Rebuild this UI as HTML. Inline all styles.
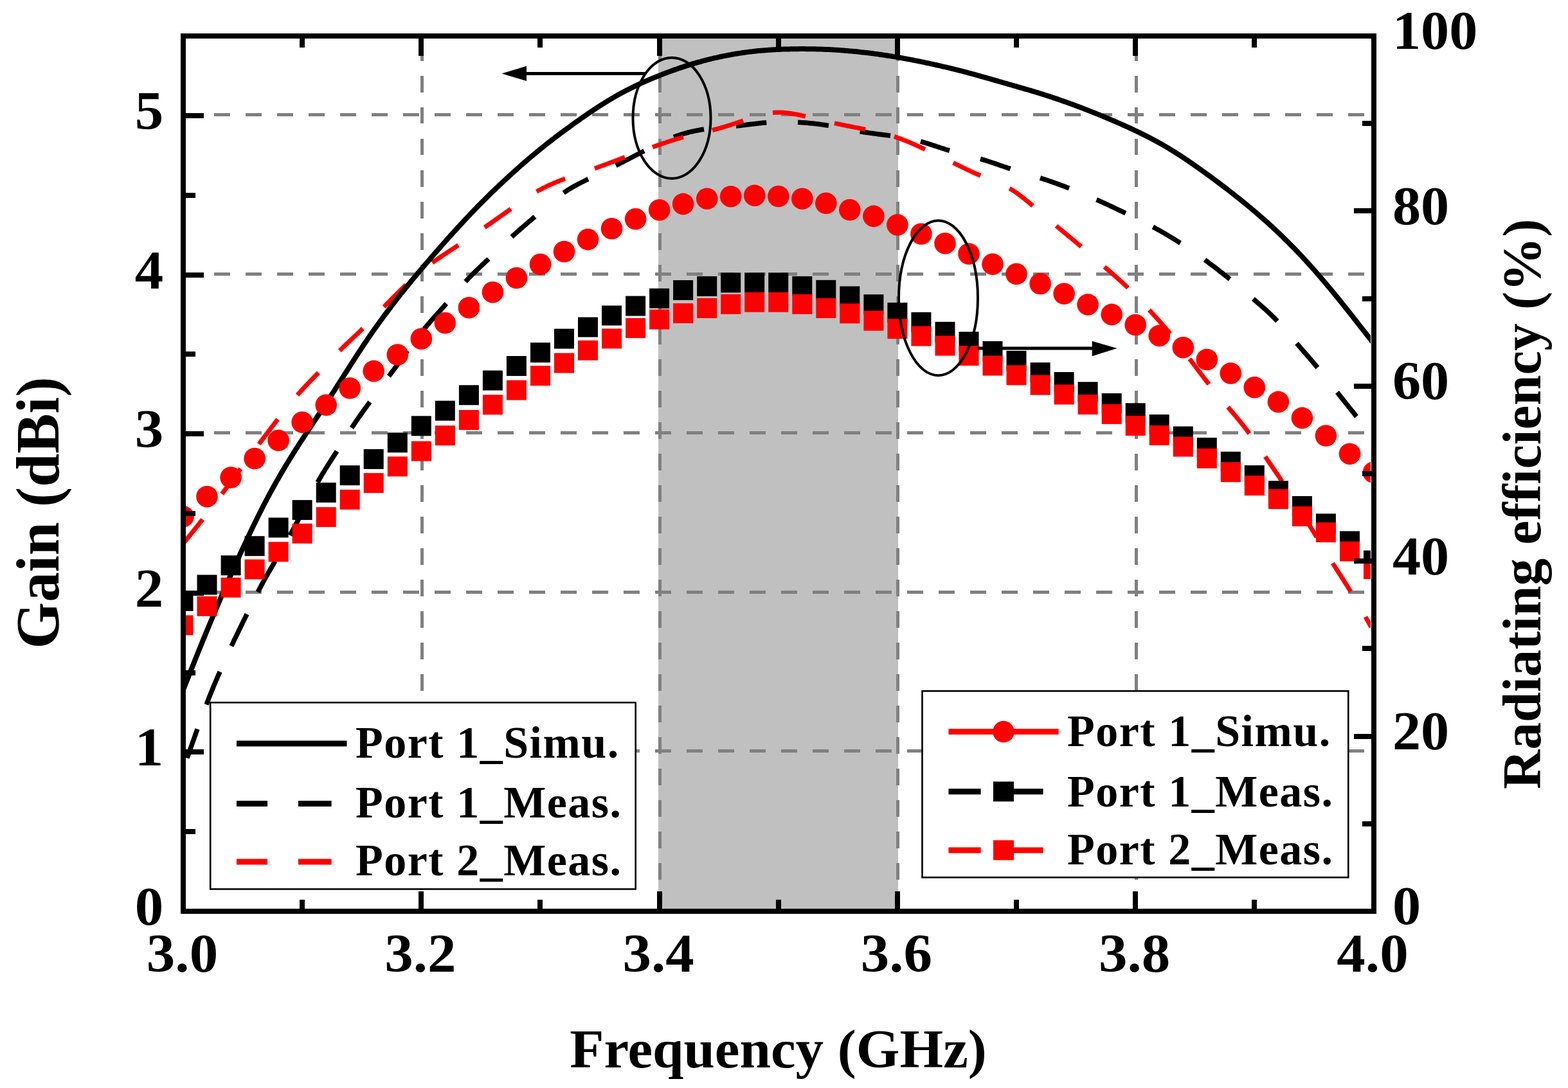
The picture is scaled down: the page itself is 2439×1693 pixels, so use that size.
<!DOCTYPE html><html><head><meta charset="utf-8"><title>Gain and radiating efficiency</title>
<style>html,body{margin:0;padding:0;background:#fff;overflow:hidden}svg{display:block}text{font-family:"Liberation Serif","Times New Roman",serif;font-weight:bold;fill:#000}</style></head><body>
<svg width="2439" height="1693" viewBox="0 0 2439 1693">
<rect x="0" y="0" width="2439" height="1693" fill="#fff"/>
<defs><clipPath id="pc"><rect x="289" y="60" width="1843" height="1354"/></clipPath></defs>
<rect x="1024" y="60" width="373" height="1354" fill="#c0c0c0" shape-rendering="crispEdges"/>
<g fill="none" stroke="#808080" stroke-width="5" shape-rendering="crispEdges">
<path d="M289,1168.9H2132" stroke-dasharray="25.5 23.5" stroke-dashoffset="5.5"/>
<path d="M289,921.2H2132" stroke-dasharray="25.5 23.5" stroke-dashoffset="5.5"/>
<path d="M289,673.6H2132" stroke-dasharray="25.5 23.5" stroke-dashoffset="5.5"/>
<path d="M289,426H2132" stroke-dasharray="25.5 23.5" stroke-dashoffset="5.5"/>
<path d="M289,178.3H2132" stroke-dasharray="25.5 23.5" stroke-dashoffset="5.5"/>
<path d="M656.3,60V1414" stroke-dasharray="25.5 23.5" stroke-dashoffset="40.0"/>
<path d="M1026.6,60V1414" stroke-dasharray="25.5 23.5" stroke-dashoffset="40.0"/>
<path d="M1396.9,60V1414" stroke-dasharray="25.5 23.5" stroke-dashoffset="40.0"/>
<path d="M1767.2,60V1414" stroke-dasharray="25.5 23.5" stroke-dashoffset="40.0"/>
</g>
<g clip-path="url(#pc)" fill="none" stroke-linejoin="round">
<path d="M291,1179.6L291.7,1177.6L292.5,1175.5L293.2,1173.5L293.9,1171.4L294.6,1169.4L295.4,1167.3L296.1,1165.3L296.8,1163.2L297.5,1161.2L298.3,1159.1L299,1157.1L299.7,1155L300.4,1153L301.2,1150.9L301.9,1148.9L302.6,1146.8L303.4,1144.8L304.1,1142.7L304.8,1140.7L305.5,1138.6L306.3,1136.6L307,1134.5M321,1096.3L321.8,1094.3L322.5,1092.3L323.3,1090.4L324.1,1088.4L324.8,1086.4L325.6,1084.4L326.4,1082.5L327.2,1080.5L328,1078.5L328.8,1076.6L329.6,1074.6L330.4,1072.6L331.2,1070.7L332,1068.7L332.8,1066.7L333.6,1064.8L334.5,1062.8L335.3,1060.9L336.1,1058.9L337,1057L337.8,1055L338.6,1053.1L339.5,1051.1L340.3,1049.2L341.2,1047.2L342,1045.3M360,1005.3L360.9,1003.4L361.8,1001.5L362.7,999.6L363.6,997.6L364.5,995.7L365.4,993.8L366.4,991.9L367.3,990L368.2,988.1L369.1,986.2L370,984.3L371,982.4L371.9,980.4L372.8,978.5L373.8,976.6L374.7,974.7L375.6,972.8L376.5,970.9L377.5,969L378.4,967.1L379.3,965.2L380.3,963.3L381.2,961.4L382.1,959.5L383.1,957.6L384,955.7M401,921.3L402,919.5L403,917.6L404,915.7L405,913.8L406,911.9L407,910.1L408,908.2L409,906.3L410,904.5L411.1,902.6L412.1,900.8L413.1,898.9L414.2,897.1L415.2,895.2L416.3,893.4L417.3,891.5L418.4,889.7L419.5,887.8L420.5,886L421.6,884.1L422.7,882.3L423.7,880.5L424.8,878.6L425.9,876.8L426.9,875L428,873.1M451,833L452,831.2L453,829.3L454,827.4L455.1,825.6L456.1,823.7L457.1,821.8L458.1,819.9L459.1,818.1L460.1,816.2L461.1,814.3L462.1,812.4L463.1,810.5L464.1,808.6L465,806.7L466,804.8L467,802.9L467.9,801L468.9,799.1L469.9,797.2L470.8,795.3L471.8,793.4L472.8,791.5L473.7,789.6M494,750.6L495,748.8L496.1,746.9L497.1,745.1L498.2,743.3L499.3,741.4L500.3,739.6L501.4,737.8L502.5,736L503.6,734.2L504.7,732.4L505.8,730.6L506.9,728.8L508.1,727L509.2,725.2L510.3,723.4L511.5,721.7L512.6,719.9L513.7,718.1L514.9,716.3L516,714.5L517.2,712.8L518.3,711L519.4,709.2L520.6,707.4L521.7,705.7L522.9,703.9L524,702.1M547,665.8L548.2,664L549.4,662.3L550.6,660.5L551.8,658.7L553,656.9L554.2,655.2L555.4,653.4L556.6,651.6L557.8,649.9L559,648.1L560.3,646.4L561.5,644.6L562.8,642.9L564,641.1L565.2,639.4L566.5,637.7L567.7,635.9L569,634.2L570.3,632.5L571.5,630.7L572.8,629L574,627.3L575.3,625.5M604.9,585.4L606.2,583.7L607.5,582L608.7,580.3L610,578.6L611.3,576.9L612.6,575.1L613.8,573.4L615.1,571.7L616.4,570L617.6,568.3L618.9,566.6L620.1,564.9L621.4,563.1L622.7,561.4L623.9,559.7L625.2,558L626.4,556.3L627.7,554.5L628.9,552.8L630.2,551.1L631.4,549.4L632.7,547.6L633.9,545.9M659.9,511.8L661.2,510.2L662.6,508.6L663.9,507L665.2,505.4L666.6,503.8L668,502.2L669.3,500.6L670.7,499L672.1,497.5L673.5,495.9L674.8,494.3L676.2,492.8L677.6,491.2L679,489.6L680.4,488.1L681.8,486.5L683.2,485L684.6,483.4L686,481.9L687.4,480.3L688.8,478.7L690.2,477.2L691.5,475.6L692.9,474L694.3,472.5M724,438.3L725.4,436.8L726.9,435.2L728.3,433.7L729.8,432.2L731.3,430.7L732.7,429.2L734.2,427.7L735.7,426.2L737.2,424.7L738.7,423.2L740.2,421.7L741.7,420.3L743.2,418.8L744.7,417.3L746.3,415.9L747.8,414.4L749.3,413L750.8,411.5L752.4,410.1L753.9,408.6L755.4,407.2L756.9,405.7L758.5,404.3L760,402.8M796,368.5L797.6,367.1L799.2,365.6L800.8,364.2L802.5,362.7L804.1,361.3L805.7,359.8L807.3,358.4L809,357L810.6,355.5L812.3,354.1L813.9,352.7L815.6,351.3L817.2,349.9L818.8,348.4L820.5,347L822.1,345.6L823.8,344.2L825.4,342.8L827.1,341.4L828.7,339.9L830.4,338.5L832,337.1M876.7,300L878.5,298.8L880.3,297.6L882.2,296.4L884,295.2L885.9,294.1L887.8,292.9L889.7,291.8L891.6,290.7L893.5,289.6L895.4,288.6L897.4,287.5L899.3,286.5L901.2,285.5L903.2,284.5L905.2,283.5L907.1,282.5L909.1,281.5L911.1,280.5L913,279.5L915,278.6M958,257.5L959.9,256.6L961.8,255.6L963.8,254.6L965.7,253.7L967.6,252.7L969.5,251.7L971.4,250.7L973.3,249.7L975.3,248.7L977.2,247.8L979.1,246.8L981,245.8L982.9,244.8L984.8,243.8L986.7,242.8L988.6,241.8L990.5,240.8L992.4,239.8L994.4,238.8L996.3,237.8L998.2,236.8L1000.1,235.8L1002,234.8M1048,213.3L1050,212.6L1052,211.8L1054,211.1L1056,210.5L1058,209.8L1060,209.2L1062,208.5L1064,207.9L1066.1,207.4L1068.1,206.8L1070.2,206.2L1072.2,205.7L1074.3,205.2L1076.3,204.7L1078.4,204.3L1080.4,203.8L1082.5,203.4L1084.6,203L1086.7,202.6L1088.7,202.2L1090.8,201.8L1092.9,201.5L1095,201.2M1145,196.1L1147.2,195.9L1149.3,195.6L1151.5,195.4L1153.6,195.1L1155.7,194.9L1157.9,194.6L1160,194.3L1162.2,194.1L1164.3,193.8L1166.5,193.5L1168.6,193.2L1170.8,193L1172.9,192.7L1175.1,192.5L1177.2,192.2L1179.4,192L1181.5,191.7L1183.7,191.5L1185.8,191.3L1188,191.1L1190.1,190.9L1192.3,190.7M1241,190.3L1243.1,190.4L1245.2,190.6L1247.3,190.7L1249.4,190.8L1251.5,191L1253.6,191.1L1255.7,191.3L1257.8,191.5L1259.8,191.7L1261.9,191.9L1264,192.1L1266.1,192.3L1268.2,192.6L1270.3,192.8L1272.4,193L1274.5,193.3L1276.5,193.6L1278.6,193.9L1280.7,194.2L1282.8,194.5L1284.9,194.8L1286.9,195.1L1289,195.4M1337.8,204.6L1339.9,205L1342.1,205.3L1344.2,205.7L1346.4,206L1348.5,206.3L1350.6,206.6L1352.8,206.9L1354.9,207.2L1357.1,207.5L1359.2,207.8L1361.4,208.1L1363.5,208.4L1365.7,208.7L1367.8,208.9L1370,209.2L1372.1,209.5L1374.3,209.8L1376.4,210.1L1378.6,210.3L1380.7,210.6L1382.9,210.9L1385,211.2M1432,220.1L1434.1,220.7L1436.1,221.3L1438.2,221.9L1440.2,222.5L1442.3,223.1L1444.3,223.8L1446.4,224.4L1448.4,225.1L1450.5,225.8L1452.5,226.4L1454.5,227.1L1456.6,227.8L1458.6,228.5L1460.6,229.1L1462.7,229.8L1464.7,230.5L1466.8,231.1L1468.8,231.8L1470.8,232.5L1472.9,233.1L1474.9,233.7L1477,234.3M1525,247.2L1527,247.8L1529.1,248.4L1531.1,249.1L1533.2,249.7L1535.2,250.4L1537.2,251L1539.3,251.7L1541.3,252.4L1543.3,253L1545.3,253.7L1547.3,254.4L1549.4,255.1L1551.4,255.8L1553.4,256.5L1555.4,257.2L1557.4,257.9L1559.5,258.5L1561.5,259.2L1563.5,259.9L1565.5,260.6L1567.5,261.3L1569.6,261.9L1571.6,262.6M1618,276.9L1620.1,277.6L1622.1,278.2L1624.2,278.9L1626.3,279.6L1628.3,280.3L1630.4,281L1632.4,281.7L1634.5,282.4L1636.5,283.1L1638.6,283.9L1640.6,284.6L1642.7,285.3L1644.7,286.1L1646.7,286.8L1648.8,287.6L1650.8,288.3L1652.9,289.1L1654.9,289.8L1656.9,290.6L1658.9,291.4L1661,292.2L1663,293M1705.6,310.7L1707.6,311.5L1709.6,312.4L1711.5,313.3L1713.5,314.2L1715.5,315.1L1717.5,316L1719.4,316.9L1721.4,317.8L1723.4,318.7L1725.3,319.7L1727.3,320.6L1729.3,321.5L1731.2,322.4L1733.2,323.3L1735.1,324.3L1737.1,325.2L1739.1,326.1L1741,327.1L1743,328L1744.9,328.9L1746.9,329.9L1748.8,330.8L1750.8,331.7M1793.4,353.1L1795.3,354.1L1797.2,355.2L1799.1,356.2L1800.9,357.2L1802.8,358.3L1804.7,359.3L1806.6,360.4L1808.4,361.5L1810.3,362.5L1812.2,363.6L1814,364.7L1815.9,365.8L1817.7,366.9L1819.6,368L1821.4,369.1L1823.2,370.2L1825.1,371.4L1826.9,372.5L1828.7,373.6L1830.6,374.8L1832.4,375.9L1834.2,377.1L1836,378.2M1874,404.3L1875.7,405.6L1877.5,406.8L1879.2,408.1L1880.9,409.4L1882.6,410.7L1884.3,411.9L1886,413.2L1887.8,414.5L1889.5,415.8L1891.2,417.1L1892.9,418.4L1894.6,419.7L1896.2,421.1L1897.9,422.4L1899.6,423.7L1901.3,425L1903,426.4L1904.7,427.7L1906.3,429L1908,430.4L1909.7,431.7L1911.3,433.1L1913,434.4M1949.3,465L1950.9,466.4L1952.5,467.8L1954.2,469.2L1955.8,470.6L1957.4,472L1959,473.4L1960.6,474.8L1962.2,476.2L1963.8,477.6L1965.4,479L1967,480.4L1968.6,481.8L1970.2,483.3L1971.7,484.7L1973.3,486.2L1974.8,487.7L1976.4,489.1L1977.9,490.6L1979.4,492.1L1980.9,493.6L1982.5,495.1L1983.9,496.6L1985.4,498.2L1986.9,499.7M2017,534.3L2018.4,535.9L2019.8,537.5L2021.2,539.2L2022.7,540.8L2024.1,542.5L2025.5,544.1L2026.9,545.7L2028.3,547.3L2029.8,549L2031.2,550.6L2032.6,552.2L2034,553.9L2035.5,555.5L2036.9,557.1L2038.3,558.8L2039.7,560.4L2041.1,562.1L2042.5,563.7L2043.9,565.4L2045.3,567L2046.7,568.7L2048.1,570.3L2049.5,572M2080,610.4L2081.3,612L2082.6,613.7L2083.9,615.3L2085.2,617L2086.5,618.6L2087.8,620.3L2089.1,621.9L2090.4,623.5L2091.7,625.2L2093,626.8L2094.3,628.5L2095.6,630.1L2096.9,631.7L2098.2,633.4L2099.5,635L2100.8,636.7L2102.1,638.3L2103.5,639.9L2104.8,641.6L2106.1,643.2L2107.4,644.8L2108.7,646.5L2110,648.1" stroke="#000" stroke-width="7.5"/>
<path d="M284,847.2L285.4,845.5L286.7,843.8L288.1,842.1L289.4,840.4L290.8,838.7L292.1,837L293.5,835.4L294.8,833.7L296.2,832L297.5,830.3L298.9,828.6L300.2,826.9L301.6,825.2L302.9,823.5L304.3,821.8L305.6,820.1L307,818.5L308.3,816.8L309.7,815.1L311,813.4L312.3,811.7L313.7,810L315,808.2M345.2,768.6L346.5,766.9L347.7,765.2L349,763.5L350.3,761.8L351.5,760.1L352.8,758.4L354.1,756.7L355.4,755L356.6,753.3L357.9,751.5L359.2,749.8L360.4,748.1L361.7,746.4L363,744.7L364.2,743L365.5,741.3L366.8,739.6L368,737.8L369.3,736.1L370.6,734.4L371.8,732.7L373.1,731L374.4,729.3M402.7,691.1L404,689.4L405.2,687.7L406.5,686L407.8,684.3L409,682.7L410.3,681L411.6,679.3L412.8,677.6L414.1,676L415.4,674.3L416.6,672.6L417.9,670.9L419.2,669.2L420.5,667.6L421.7,665.9L423,664.2L424.3,662.6L425.6,660.9L426.9,659.2L428.1,657.6L429.4,655.9L430.7,654.2L432,652.5M462.5,614.8L463.9,613.2L465.3,611.7L466.7,610.1L468.1,608.5L469.5,607L470.9,605.5L472.3,603.9L473.7,602.4L475.1,600.9L476.6,599.3L478,597.8L479.5,596.3L480.9,594.8L482.3,593.3L483.8,591.8L485.2,590.3L486.7,588.8L488.1,587.3L489.6,585.8L491,584.3L492.5,582.8L494,581.3L495.4,579.8M528.3,545.7L529.8,544.2L531.4,542.6L532.9,541.1L534.5,539.6L536.1,538.1L537.6,536.6L539.2,535.1L540.8,533.6L542.3,532.1L543.9,530.6L545.5,529.1L547.1,527.6L548.6,526.1L550.2,524.6L551.8,523.2L553.4,521.7L554.9,520.2L556.5,518.7L558.1,517.2L559.6,515.7L561.2,514.1L562.7,512.6L564.3,511.1M597.2,477.6L598.7,476.1L600.1,474.5L601.6,473L603.1,471.5L604.6,470L606.1,468.5L607.5,467L609,465.4L610.5,463.9L612,462.4L613.5,460.9L615,459.4L616.5,457.9L618,456.4L619.5,454.9L621,453.5L622.5,452L624,450.5L625.6,449L627.1,447.5L628.6,446.1L630.2,444.6L631.7,443.2M672.4,408.9L674.1,407.6L675.8,406.4L677.6,405.2L679.3,403.9L681.1,402.7L682.8,401.5L684.6,400.3L686.3,399.1L688.1,397.9L689.9,396.7L691.6,395.6L693.4,394.4L695.2,393.2L697,392L698.7,390.9L700.5,389.7L702.3,388.6L704.1,387.4L705.9,386.2L707.7,385.1L709.4,383.9L711.2,382.7L713,381.6M753.8,353.8L755.6,352.5L757.4,351.3L759.1,350.1L760.9,348.8L762.7,347.6L764.5,346.3L766.2,345.1L768,343.9L769.8,342.6L771.6,341.4L773.3,340.1L775.1,338.9L776.9,337.6L778.7,336.4L780.4,335.1L782.2,333.9L784,332.6L785.8,331.4L787.5,330.1L789.3,328.9L791.1,327.6L792.8,326.4L794.6,325.1M834.7,298.3L836.5,297.2L838.4,296.2L840.3,295.2L842.1,294.2L844,293.2L845.9,292.2L847.8,291.3L849.7,290.3L851.6,289.4L853.5,288.5L855.4,287.6L857.4,286.7L859.3,285.9L861.3,285L863.2,284.2L865.2,283.4L867.1,282.6L869.1,281.8L871.1,281L873,280.2L875,279.5L877,278.7L879,278M925,262.1L927,261.4L928.9,260.7L930.9,260L932.9,259.3L934.8,258.6L936.8,257.8L938.8,257.1L940.7,256.4L942.7,255.7L944.6,254.9L946.6,254.2L948.5,253.4L950.5,252.7L952.5,252L954.4,251.2L956.4,250.5L958.3,249.7L960.3,249L962.2,248.2L964.2,247.5L966.1,246.7L968.1,246L970,245.3L972,244.5M1015,228.9L1017,228.2L1019,227.5L1020.9,226.8L1022.9,226.1L1024.9,225.4L1026.9,224.7L1028.9,224L1030.9,223.3L1032.9,222.7L1034.9,222L1036.9,221.3L1038.9,220.7L1040.8,220L1042.8,219.4L1044.9,218.7L1046.9,218.1L1048.9,217.5L1050.9,216.9L1052.9,216.2L1054.9,215.7L1056.9,215.1L1058.9,214.5L1061,213.9L1063,213.4M1108,202.6L1110,202L1112,201.5L1114.1,201L1116.1,200.4L1118.1,199.8L1120.1,199.3L1122.1,198.7L1124.1,198.1L1126.1,197.5L1128.1,196.9L1130.1,196.3L1132.1,195.7L1134.1,195.1L1136.1,194.4L1138.1,193.8L1140.1,193.1L1142.1,192.5L1144.1,191.8L1146.1,191.2L1148.1,190.5L1150.1,189.8L1152,189.2L1154,188.5L1156,187.8M1202,175.4L1204.1,175.2L1206.3,175.1L1208.4,175L1210.6,174.9L1212.7,175L1214.8,175L1217,175.1L1219.1,175.2L1221.3,175.4L1223.4,175.6L1225.5,175.9L1227.7,176.1L1229.8,176.4L1231.9,176.8L1234,177.1L1236.1,177.5L1238.2,177.9L1240.3,178.3L1242.4,178.7L1244.5,179.1L1246.6,179.6L1248.7,180L1250.8,180.5L1252.9,181M1298,191.6L1300.1,192.1L1302.2,192.5L1304.2,193L1306.3,193.4L1308.4,193.9L1310.5,194.3L1312.6,194.7L1314.7,195.1L1316.8,195.6L1318.8,196L1320.9,196.4L1323,196.8L1325.1,197.2L1327.2,197.7L1329.3,198.1L1331.4,198.5L1333.5,198.9L1335.6,199.3L1337.6,199.7L1339.7,200.1L1341.8,200.5L1343.9,200.9L1346,201.4M1391,212.4L1393,213.1L1394.9,213.8L1396.9,214.5L1398.9,215.2L1400.8,215.9L1402.8,216.6L1404.7,217.4L1406.6,218.2L1408.6,218.9L1410.5,219.7L1412.4,220.5L1414.3,221.3L1416.2,222.2L1418.2,223L1420.1,223.8L1422,224.7L1423.9,225.5L1425.8,226.4L1427.7,227.2L1429.6,228.1L1431.4,229L1433.3,229.8L1435.2,230.7L1437.1,231.6L1439,232.5M1482.6,253.3L1484.5,254.2L1486.4,255.1L1488.4,256.1L1490.3,257L1492.2,258L1494.1,258.9L1496,259.8L1498,260.8L1499.9,261.7L1501.8,262.7L1503.7,263.6L1505.7,264.5L1507.6,265.4L1509.5,266.3L1511.5,267.2L1513.4,268.1L1515.4,269L1517.3,269.9L1519.3,270.7L1521.3,271.6L1523.2,272.4L1525.2,273.2M1570.3,293.1L1572.2,294.2L1574,295.3L1575.8,296.5L1577.6,297.7L1579.4,298.9L1581.2,300.2L1582.9,301.4L1584.7,302.7L1586.4,304L1588.1,305.3L1589.9,306.6L1591.6,307.9L1593.3,309.3L1594.9,310.6L1596.6,312L1598.3,313.3L1600,314.7L1601.6,316.1L1603.3,317.5L1604.9,318.9L1606.6,320.3M1643,351.5L1644.6,352.9L1646.2,354.2L1647.8,355.6L1649.4,356.9L1651.1,358.3L1652.7,359.6L1654.3,360.9L1655.9,362.3L1657.5,363.6L1659.2,364.9L1660.8,366.3L1662.4,367.6L1664,369L1665.7,370.3L1667.3,371.6L1668.9,373L1670.5,374.3L1672.1,375.6L1673.7,377L1675.4,378.3L1677,379.7L1678.6,381L1680.2,382.4L1681.8,383.7M1718,415.2L1719.6,416.6L1721.2,418L1722.8,419.4L1724.4,420.8L1726,422.2L1727.7,423.6L1729.3,425L1730.9,426.4L1732.5,427.8L1734.1,429.2L1735.7,430.6L1737.3,432L1738.9,433.5L1740.4,434.9L1742,436.3L1743.6,437.7L1745.2,439.2L1746.8,440.6L1748.3,442.1L1749.9,443.5L1751.4,445L1753,446.5L1754.5,448M1787.6,482.4L1789.1,484L1790.5,485.5L1792,487.1L1793.4,488.7L1794.8,490.3L1796.3,491.9L1797.7,493.4L1799.2,495L1800.6,496.6L1802,498.2L1803.5,499.8L1804.9,501.4L1806.3,503L1807.7,504.6L1809.1,506.2L1810.5,507.8L1811.9,509.4L1813.3,511L1814.7,512.7L1816.1,514.3L1817.5,515.9L1818.8,517.6L1820.2,519.2M1850.3,558.3L1851.6,560L1852.9,561.7L1854.2,563.5L1855.5,565.2L1856.8,566.9L1858.1,568.7L1859.4,570.4L1860.7,572.1L1862,573.8L1863.3,575.6L1864.6,577.3L1865.9,579L1867.2,580.7L1868.5,582.5L1869.8,584.2L1871.1,585.9L1872.4,587.6L1873.7,589.3L1875.1,591L1876.4,592.7L1877.7,594.4L1879.1,596.1L1880.4,597.8M1910,633.5L1911.4,635.1L1912.8,636.7L1914.1,638.3L1915.5,640L1916.9,641.6L1918.3,643.2L1919.6,644.8L1921,646.4L1922.4,648.1L1923.7,649.7L1925.1,651.3L1926.4,652.9L1927.8,654.6L1929.1,656.2L1930.5,657.9L1931.8,659.5L1933.1,661.2L1934.4,662.9L1935.7,664.5L1937,666.2L1938.3,667.9L1939.6,669.6L1940.9,671.3L1942.1,673L1943.4,674.7M1968,710.6L1969.2,712.3L1970.4,714.1L1971.6,715.8L1972.8,717.6L1974,719.3L1975.2,721.1L1976.4,722.8L1977.6,724.6L1978.8,726.3L1980,728.1L1981.2,729.8L1982.4,731.6L1983.6,733.3L1984.8,735.1L1986,736.8L1987.2,738.6L1988.4,740.3L1989.6,742.1L1990.8,743.8L1991.9,745.6L1993.1,747.4L1994.3,749.1M2022.7,793.9L2023.8,795.7L2024.9,797.5L2026,799.4L2027.1,801.2L2028.2,803L2029.3,804.8L2030.4,806.6L2031.5,808.5L2032.6,810.3L2033.7,812.1L2034.8,813.9L2035.9,815.8L2037,817.6L2038.1,819.4L2039.2,821.2L2040.3,823.1L2041.4,824.9L2042.5,826.7L2043.6,828.5L2044.7,830.3L2045.8,832.2L2046.9,834L2048,835.8M2073,876.4L2074.1,878.2L2075.2,880L2076.4,881.7L2077.5,883.5L2078.6,885.3L2079.7,887L2080.9,888.8L2082,890.6L2083.1,892.3L2084.2,894.1L2085.4,895.8L2086.5,897.6L2087.6,899.4L2088.8,901.1L2089.9,902.9L2091,904.6L2092.1,906.4L2093.2,908.2L2094.4,909.9L2095.5,911.7L2096.6,913.5L2097.7,915.3L2098.8,917L2099.9,918.8L2101,920.6M2124,959.9L2125.1,961.9L2126.2,963.9L2127.3,965.9L2128.4,967.9L2129.5,969.9L2130.6,971.9L2131.7,973.9L2132.8,975.9" stroke="#f00" stroke-width="7"/>
<path d="M280,1085.9L282,1080.8L284,1075.8L286,1070.8L288,1065.8L290,1060.7L292,1055.7L294,1050.7L296,1045.6L298,1040.6L300,1035.6L302,1030.6L304,1025.6L306,1020.6L308,1015.6L310,1010.6L312,1005.7L314,1000.7L316,995.8L318,990.9L320,986L322,981.2L324,976.4L326,971.5L328,966.7L330,962L332,957.2L334,952.5L336,947.8L338,943.1L340,938.4L342,933.7L344,929.1L346,924.4L348,919.8L350,915.2L352,910.6L354,906L356,901.5L358,896.9L360,892.4L362,887.9L364,883.4L366,878.9L368,874.5L370,870L372,865.6L374,861.2L376,856.9L378,852.5L380,848.2L382,843.9L384,839.6L386,835.4L388,831.1L390,826.9L392,822.8L394,818.6L396,814.5L398,810.4L400,806.3L402,802.3L404,798.3L406,794.4L408,790.4L410,786.5L412,782.7L414,778.8L416,775L418,771.3L420,767.5L422,763.8L424,760.2L426,756.5L428,753L430,749.4L432,745.9L434,742.4L436,738.9L438,735.5L440,732.1L442,728.7L444,725.4L446,722L448,718.8L450,715.5L452,712.3L454,709L456,705.8L458,702.7L460,699.5L462,696.4L464,693.3L466,690.2L468,687.1L470,684L472,681L474,677.9L476,674.9L478,671.8L480,668.8L482,665.8L484,662.8L486,659.8L488,656.7L490,653.7L492,650.7L494,647.7L496,644.7L498,641.6L500,638.6L502,635.5L504,632.5L506,629.4L508,626.4L510,623.3L512,620.2L514,617.1L516,614L518,610.9L520,607.8L522,604.7L524,601.6L526,598.4L528,595.3L530,592.1L532,589L534,585.9L536,582.7L538,579.6L540,576.4L542,573.3L544,570.1L546,567L548,563.9L550,560.8L552,557.7L554,554.6L556,551.5L558,548.4L560,545.4L562,542.3L564,539.3L566,536.3L568,533.3L570,530.4L572,527.4L574,524.5L576,521.6L578,518.7L580,515.8L582,513L584,510.2L586,507.4L588,504.6L590,501.8L592,499L594,496.3L596,493.6L598,490.8L600,488.2L602,485.5L604,482.8L606,480.2L608,477.5L610,474.9L612,472.3L614,469.7L616,467.1L618,464.6L620,462L622,459.5L624,456.9L626,454.4L628,451.9L630,449.4L632,447L634,444.5L636,442L638,439.6L640,437.1L642,434.7L644,432.3L646,429.9L648,427.5L650,425.1L652,422.7L654,420.3L656,418L658,415.6L660,413.3L662,410.9L664,408.6L666,406.3L668,404L670,401.7L672,399.3L674,397L676,394.7L678,392.4L680,390.2L682,387.9L684,385.6L686,383.3L688,381L690,378.8L692,376.5L694,374.2L696,372L698,369.7L700,367.5L702,365.3L704,363.1L706,360.9L708,358.7L710,356.5L712,354.3L714,352.1L716,349.9L718,347.8L720,345.6L722,343.4L724,341.3L726,339.2L728,337.1L730,334.9L732,332.8L734,330.7L736,328.7L738,326.6L740,324.5L742,322.4L744,320.4L746,318.4L748,316.3L750,314.3L752,312.3L754,310.3L756,308.3L758,306.3L760,304.4L762,302.4L764,300.4L766,298.5L768,296.6L770,294.6L772,292.7L774,290.8L776,288.9L778,287L780,285.2L782,283.3L784,281.4L786,279.6L788,277.7L790,275.9L792,274L794,272.2L796,270.4L798,268.6L800,266.8L802,265L804,263.2L806,261.4L808,259.6L810,257.8L812,256.1L814,254.3L816,252.6L818,250.9L820,249.2L822,247.4L824,245.7L826,244L828,242.4L830,240.7L832,239L834,237.4L836,235.7L838,234.1L840,232.4L842,230.8L844,229.2L846,227.6L848,226L850,224.4L852,222.8L854,221.3L856,219.7L858,218.2L860,216.6L862,215.1L864,213.5L866,212L868,210.5L870,209L872,207.5L874,206L876,204.5L878,203L880,201.6L882,200.1L884,198.7L886,197.2L888,195.8L890,194.3L892,192.9L894,191.4L896,190L898,188.6L900,187.2L902,185.7L904,184.3L906,182.9L908,181.5L910,180.1L912,178.8L914,177.4L916,176L918,174.6L920,173.3L922,172L924,170.6L926,169.3L928,168L930,166.7L932,165.4L934,164.1L936,162.8L938,161.6L940,160.3L942,159.1L944,157.9L946,156.6L948,155.4L950,154.3L952,153.1L954,151.9L956,150.7L958,149.6L960,148.5L962,147.3L964,146.2L966,145.1L968,144.1L970,143L972,141.9L974,140.9L976,139.9L978,138.8L980,137.8L982,136.8L984,135.8L986,134.9L988,133.9L990,132.9L992,132L994,131.1L996,130.1L998,129.2L1000,128.3L1002,127.4L1004,126.5L1006,125.7L1008,124.8L1010,124L1012,123.1L1014,122.3L1016,121.4L1018,120.6L1020,119.8L1022,119L1024,118.2L1026,117.4L1028,116.6L1030,115.8L1032,115L1034,114.3L1036,113.5L1038,112.8L1040,112L1042,111.3L1044,110.5L1046,109.8L1048,109.1L1050,108.4L1052,107.7L1054,107L1056,106.3L1058,105.6L1060,104.9L1062,104.3L1064,103.6L1066,102.9L1068,102.3L1070,101.7L1072,101L1074,100.4L1076,99.8L1078,99.2L1080,98.6L1082,98L1084,97.5L1086,96.9L1088,96.3L1090,95.8L1092,95.2L1094,94.7L1096,94.2L1098,93.6L1100,93.1L1102,92.6L1104,92.1L1106,91.6L1108,91.2L1110,90.7L1112,90.2L1114,89.8L1116,89.3L1118,88.9L1120,88.4L1122,88L1124,87.6L1126,87.2L1128,86.8L1130,86.4L1132,86L1134,85.6L1136,85.3L1138,84.9L1140,84.5L1142,84.2L1144,83.8L1146,83.5L1148,83.2L1150,82.9L1152,82.6L1154,82.3L1156,82L1158,81.7L1160,81.4L1162,81.1L1164,80.9L1166,80.6L1168,80.4L1170,80.2L1172,79.9L1174,79.7L1176,79.5L1178,79.3L1180,79.1L1182,78.9L1184,78.7L1186,78.6L1188,78.4L1190,78.2L1192,78.1L1194,77.9L1196,77.8L1198,77.7L1200,77.5L1202,77.4L1204,77.3L1206,77.2L1208,77.1L1210,77L1212,76.9L1214,76.8L1216,76.7L1218,76.6L1220,76.6L1222,76.5L1224,76.5L1226,76.4L1228,76.4L1230,76.3L1232,76.3L1234,76.2L1236,76.2L1238,76.2L1240,76.2L1242,76.2L1244,76.1L1246,76.1L1248,76.1L1250,76.1L1252,76.1L1254,76.2L1256,76.2L1258,76.2L1260,76.2L1262,76.2L1264,76.3L1266,76.3L1268,76.3L1270,76.4L1272,76.4L1274,76.5L1276,76.6L1278,76.6L1280,76.7L1282,76.8L1284,76.9L1286,76.9L1288,77L1290,77.1L1292,77.2L1294,77.3L1296,77.4L1298,77.6L1300,77.7L1302,77.8L1304,78L1306,78.1L1308,78.2L1310,78.4L1312,78.5L1314,78.7L1316,78.9L1318,79L1320,79.2L1322,79.4L1324,79.6L1326,79.7L1328,79.9L1330,80.1L1332,80.3L1334,80.5L1336,80.7L1338,81L1340,81.2L1342,81.4L1344,81.6L1346,81.9L1348,82.1L1350,82.3L1352,82.6L1354,82.8L1356,83.1L1358,83.3L1360,83.6L1362,83.9L1364,84.1L1366,84.4L1368,84.7L1370,85L1372,85.3L1374,85.6L1376,85.9L1378,86.2L1380,86.5L1382,86.8L1384,87.1L1386,87.4L1388,87.7L1390,88.1L1392,88.4L1394,88.7L1396,89.1L1398,89.4L1400,89.8L1402,90.1L1404,90.5L1406,90.9L1408,91.2L1410,91.6L1412,92L1414,92.3L1416,92.7L1418,93.1L1420,93.5L1422,93.9L1424,94.3L1426,94.7L1428,95.1L1430,95.5L1432,95.9L1434,96.3L1436,96.7L1438,97.1L1440,97.6L1442,98L1444,98.4L1446,98.8L1448,99.3L1450,99.7L1452,100.2L1454,100.6L1456,101L1458,101.5L1460,101.9L1462,102.4L1464,102.8L1466,103.3L1468,103.8L1470,104.2L1472,104.7L1474,105.2L1476,105.6L1478,106.1L1480,106.6L1482,107.1L1484,107.6L1486,108.1L1488,108.6L1490,109.1L1492,109.6L1494,110.1L1496,110.6L1498,111.1L1500,111.7L1502,112.2L1504,112.7L1506,113.3L1508,113.8L1510,114.3L1512,114.9L1514,115.4L1516,116L1518,116.5L1520,117.1L1522,117.7L1524,118.2L1526,118.8L1528,119.3L1530,119.9L1532,120.5L1534,121L1536,121.6L1538,122.2L1540,122.7L1542,123.3L1544,123.9L1546,124.5L1548,125L1550,125.6L1552,126.2L1554,126.8L1556,127.3L1558,127.9L1560,128.5L1562,129.1L1564,129.6L1566,130.2L1568,130.8L1570,131.4L1572,131.9L1574,132.5L1576,133.1L1578,133.7L1580,134.2L1582,134.8L1584,135.4L1586,136L1588,136.5L1590,137.1L1592,137.7L1594,138.3L1596,138.9L1598,139.4L1600,140L1602,140.6L1604,141.2L1606,141.8L1608,142.4L1610,143L1612,143.6L1614,144.2L1616,144.8L1618,145.5L1620,146.1L1622,146.7L1624,147.3L1626,148L1628,148.6L1630,149.3L1632,149.9L1634,150.6L1636,151.2L1638,151.9L1640,152.6L1642,153.2L1644,153.9L1646,154.6L1648,155.3L1650,156L1652,156.7L1654,157.4L1656,158.1L1658,158.8L1660,159.5L1662,160.2L1664,160.9L1666,161.7L1668,162.4L1670,163.1L1672,163.9L1674,164.6L1676,165.4L1678,166.1L1680,166.9L1682,167.6L1684,168.4L1686,169.2L1688,170L1690,170.7L1692,171.5L1694,172.3L1696,173.1L1698,173.9L1700,174.7L1702,175.5L1704,176.3L1706,177.1L1708,177.9L1710,178.7L1712,179.6L1714,180.4L1716,181.2L1718,182L1720,182.9L1722,183.7L1724,184.6L1726,185.4L1728,186.3L1730,187.1L1732,188L1734,188.8L1736,189.7L1738,190.6L1740,191.4L1742,192.3L1744,193.2L1746,194.1L1748,195L1750,195.9L1752,196.8L1754,197.7L1756,198.6L1758,199.5L1760,200.4L1762,201.4L1764,202.3L1766,203.3L1768,204.2L1770,205.2L1772,206.1L1774,207.1L1776,208.1L1778,209.1L1780,210.1L1782,211.1L1784,212.1L1786,213.1L1788,214.2L1790,215.2L1792,216.3L1794,217.3L1796,218.4L1798,219.5L1800,220.6L1802,221.7L1804,222.8L1806,223.9L1808,225.1L1810,226.2L1812,227.4L1814,228.6L1816,229.7L1818,230.9L1820,232.2L1822,233.4L1824,234.6L1826,235.9L1828,237.1L1830,238.4L1832,239.7L1834,240.9L1836,242.2L1838,243.5L1840,244.9L1842,246.2L1844,247.5L1846,248.9L1848,250.2L1850,251.6L1852,253L1854,254.4L1856,255.7L1858,257.1L1860,258.5L1862,259.9L1864,261.4L1866,262.8L1868,264.2L1870,265.6L1872,267.1L1874,268.5L1876,270L1878,271.4L1880,272.9L1882,274.3L1884,275.8L1886,277.3L1888,278.8L1890,280.2L1892,281.7L1894,283.2L1896,284.7L1898,286.2L1900,287.7L1902,289.3L1904,290.8L1906,292.3L1908,293.8L1910,295.4L1912,296.9L1914,298.5L1916,300.1L1918,301.6L1920,303.2L1922,304.8L1924,306.4L1926,308L1928,309.6L1930,311.2L1932,312.8L1934,314.4L1936,316L1938,317.7L1940,319.3L1942,321L1944,322.6L1946,324.3L1948,326L1950,327.7L1952,329.3L1954,331L1956,332.8L1958,334.5L1960,336.2L1962,338L1964,339.7L1966,341.5L1968,343.2L1970,345L1972,346.8L1974,348.6L1976,350.5L1978,352.3L1980,354.1L1982,356L1984,357.9L1986,359.7L1988,361.6L1990,363.5L1992,365.5L1994,367.4L1996,369.3L1998,371.3L2000,373.3L2002,375.3L2004,377.2L2006,379.3L2008,381.3L2010,383.3L2012,385.4L2014,387.4L2016,389.5L2018,391.6L2020,393.7L2022,395.8L2024,397.9L2026,400.1L2028,402.2L2030,404.4L2032,406.6L2034,408.8L2036,411L2038,413.2L2040,415.4L2042,417.7L2044,419.9L2046,422.2L2048,424.5L2050,426.8L2052,429.1L2054,431.4L2056,433.8L2058,436.1L2060,438.4L2062,440.8L2064,443.2L2066,445.6L2068,448L2070,450.4L2072,452.8L2074,455.2L2076,457.7L2078,460.1L2080,462.6L2082,465L2084,467.5L2086,470L2088,472.5L2090,475L2092,477.5L2094,480L2096,482.5L2098,485L2100,487.5L2102,490.1L2104,492.6L2106,495.2L2108,497.7L2110,500.3L2112,502.8L2114,505.4L2116,507.9L2118,510.5L2120,513L2122,515.6L2124,518.2L2126,520.7L2128,523.3L2130,525.8L2132,528.4L2134,531L2136,533.5L2138,536.1L2140,538.7" stroke="#000" stroke-width="8"/>
</g>
<g clip-path="url(#pc)">
<rect x="269.5" y="919.9" width="31" height="31" fill="#000"/><rect x="306.5" y="894.5" width="31" height="31" fill="#000"/><rect x="343.6" y="864.3" width="31" height="31" fill="#000"/><rect x="380.6" y="834.2" width="31" height="31" fill="#000"/><rect x="417.6" y="805.5" width="31" height="31" fill="#000"/><rect x="454.6" y="778.1" width="31" height="31" fill="#000"/><rect x="491.7" y="751" width="31" height="31" fill="#000"/><rect x="528.7" y="724.2" width="31" height="31" fill="#000"/><rect x="565.7" y="698.9" width="31" height="31" fill="#000"/><rect x="602.8" y="673.2" width="31" height="31" fill="#000"/><rect x="639.8" y="647.3" width="31" height="31" fill="#000"/><rect x="676.8" y="623.6" width="31" height="31" fill="#000"/><rect x="713.9" y="599.3" width="31" height="31" fill="#000"/><rect x="750.9" y="576.5" width="31" height="31" fill="#000"/><rect x="787.9" y="554" width="31" height="31" fill="#000"/><rect x="825" y="533.1" width="31" height="31" fill="#000"/><rect x="862" y="511.6" width="31" height="31" fill="#000"/><rect x="899" y="493.6" width="31" height="31" fill="#000"/><rect x="936" y="475.5" width="31" height="31" fill="#000"/><rect x="973.1" y="460.6" width="31" height="31" fill="#000"/><rect x="1010.1" y="448.8" width="31" height="31" fill="#000"/><rect x="1047.1" y="436" width="31" height="31" fill="#000"/><rect x="1084.2" y="429.9" width="31" height="31" fill="#000"/><rect x="1121.2" y="424.3" width="31" height="31" fill="#000"/><rect x="1158.2" y="424.3" width="31" height="31" fill="#000"/><rect x="1195.2" y="424.3" width="31" height="31" fill="#000"/><rect x="1232.3" y="429.9" width="31" height="31" fill="#000"/><rect x="1269.3" y="435.8" width="31" height="31" fill="#000"/><rect x="1306.3" y="445.5" width="31" height="31" fill="#000"/><rect x="1343.4" y="458.2" width="31" height="31" fill="#000"/><rect x="1380.4" y="470.9" width="31" height="31" fill="#000"/><rect x="1417.4" y="485.8" width="31" height="31" fill="#000"/><rect x="1454.5" y="500.8" width="31" height="31" fill="#000"/><rect x="1491.5" y="516.3" width="31" height="31" fill="#000"/><rect x="1528.5" y="530.9" width="31" height="31" fill="#000"/><rect x="1565.5" y="545.9" width="31" height="31" fill="#000"/><rect x="1602.6" y="564.1" width="31" height="31" fill="#000"/><rect x="1639.6" y="579" width="31" height="31" fill="#000"/><rect x="1676.6" y="594.3" width="31" height="31" fill="#000"/><rect x="1713.7" y="612" width="31" height="31" fill="#000"/><rect x="1750.7" y="627.3" width="31" height="31" fill="#000"/><rect x="1787.7" y="645" width="31" height="31" fill="#000"/><rect x="1824.8" y="663.5" width="31" height="31" fill="#000"/><rect x="1861.8" y="681.1" width="31" height="31" fill="#000"/><rect x="1898.8" y="702.8" width="31" height="31" fill="#000"/><rect x="1935.8" y="724.1" width="31" height="31" fill="#000"/><rect x="1972.9" y="748.2" width="31" height="31" fill="#000"/><rect x="2009.9" y="772" width="31" height="31" fill="#000"/><rect x="2046.9" y="799.3" width="31" height="31" fill="#000"/><rect x="2084" y="826.5" width="31" height="31" fill="#000"/><rect x="2121" y="856.6" width="31" height="31" fill="#000"/><rect x="269.5" y="957.4" width="31" height="31" fill="#f00"/><rect x="306.5" y="927.8" width="31" height="31" fill="#f00"/><rect x="343.6" y="898.8" width="31" height="31" fill="#f00"/><rect x="380.6" y="870.5" width="31" height="31" fill="#f00"/><rect x="417.6" y="843.2" width="31" height="31" fill="#f00"/><rect x="454.6" y="814.7" width="31" height="31" fill="#f00"/><rect x="491.7" y="789.1" width="31" height="31" fill="#f00"/><rect x="528.7" y="761.9" width="31" height="31" fill="#f00"/><rect x="565.7" y="736.1" width="31" height="31" fill="#f00"/><rect x="602.8" y="710.4" width="31" height="31" fill="#f00"/><rect x="639.8" y="686.5" width="31" height="31" fill="#f00"/><rect x="676.8" y="662.2" width="31" height="31" fill="#f00"/><rect x="713.9" y="638" width="31" height="31" fill="#f00"/><rect x="750.9" y="614.3" width="31" height="31" fill="#f00"/><rect x="787.9" y="591.6" width="31" height="31" fill="#f00"/><rect x="825" y="569.2" width="31" height="31" fill="#f00"/><rect x="862" y="549.4" width="31" height="31" fill="#f00"/><rect x="899" y="529.7" width="31" height="31" fill="#f00"/><rect x="936" y="511.4" width="31" height="31" fill="#f00"/><rect x="973.1" y="495" width="31" height="31" fill="#f00"/><rect x="1010.1" y="481.5" width="31" height="31" fill="#f00"/><rect x="1047.1" y="472" width="31" height="31" fill="#f00"/><rect x="1084.2" y="464" width="31" height="31" fill="#f00"/><rect x="1121.2" y="457.8" width="31" height="31" fill="#f00"/><rect x="1158.2" y="454.7" width="31" height="31" fill="#f00"/><rect x="1195.2" y="454.7" width="31" height="31" fill="#f00"/><rect x="1232.3" y="457.8" width="31" height="31" fill="#f00"/><rect x="1269.3" y="464" width="31" height="31" fill="#f00"/><rect x="1306.3" y="472.3" width="31" height="31" fill="#f00"/><rect x="1343.4" y="483.6" width="31" height="31" fill="#f00"/><rect x="1380.4" y="496.2" width="31" height="31" fill="#f00"/><rect x="1417.4" y="507.5" width="31" height="31" fill="#f00"/><rect x="1454.5" y="522.5" width="31" height="31" fill="#f00"/><rect x="1491.5" y="538" width="31" height="31" fill="#f00"/><rect x="1528.5" y="553.5" width="31" height="31" fill="#f00"/><rect x="1565.5" y="568.3" width="31" height="31" fill="#f00"/><rect x="1602.6" y="583.6" width="31" height="31" fill="#f00"/><rect x="1639.6" y="598.5" width="31" height="31" fill="#f00"/><rect x="1676.6" y="614" width="31" height="31" fill="#f00"/><rect x="1713.7" y="628.9" width="31" height="31" fill="#f00"/><rect x="1750.7" y="647" width="31" height="31" fill="#f00"/><rect x="1787.7" y="661.9" width="31" height="31" fill="#f00"/><rect x="1824.8" y="679.6" width="31" height="31" fill="#f00"/><rect x="1861.8" y="697.8" width="31" height="31" fill="#f00"/><rect x="1898.8" y="719.1" width="31" height="31" fill="#f00"/><rect x="1935.8" y="740.1" width="31" height="31" fill="#f00"/><rect x="1972.9" y="761.1" width="31" height="31" fill="#f00"/><rect x="2009.9" y="788" width="31" height="31" fill="#f00"/><rect x="2046.9" y="812.8" width="31" height="31" fill="#f00"/><rect x="2084" y="842.5" width="31" height="31" fill="#f00"/><rect x="2121" y="870.1" width="31" height="31" fill="#f00"/><circle cx="285" cy="803.7" r="16.8" fill="#f00"/><circle cx="322" cy="772.7" r="16.8" fill="#f00"/><circle cx="359.1" cy="743.1" r="16.8" fill="#f00"/><circle cx="396.1" cy="713.5" r="16.8" fill="#f00"/><circle cx="433.1" cy="685.3" r="16.8" fill="#f00"/><circle cx="470.1" cy="657.1" r="16.8" fill="#f00"/><circle cx="507.2" cy="630.3" r="16.8" fill="#f00"/><circle cx="544.2" cy="604" r="16.8" fill="#f00"/><circle cx="581.2" cy="577.4" r="16.8" fill="#f00"/><circle cx="618.3" cy="552" r="16.8" fill="#f00"/><circle cx="655.3" cy="527.2" r="16.8" fill="#f00"/><circle cx="692.3" cy="502.6" r="16.8" fill="#f00"/><circle cx="729.4" cy="478.7" r="16.8" fill="#f00"/><circle cx="766.4" cy="454.7" r="16.8" fill="#f00"/><circle cx="803.4" cy="432.5" r="16.8" fill="#f00"/><circle cx="840.5" cy="411.3" r="16.8" fill="#f00"/><circle cx="877.5" cy="391.5" r="16.8" fill="#f00"/><circle cx="914.5" cy="372.6" r="16.8" fill="#f00"/><circle cx="951.5" cy="355.7" r="16.8" fill="#f00"/><circle cx="988.6" cy="340.8" r="16.8" fill="#f00"/><circle cx="1025.6" cy="326.7" r="16.8" fill="#f00"/><circle cx="1062.6" cy="317.4" r="16.8" fill="#f00"/><circle cx="1099.7" cy="309.2" r="16.8" fill="#f00"/><circle cx="1136.7" cy="305.7" r="16.8" fill="#f00"/><circle cx="1173.7" cy="304.2" r="16.8" fill="#f00"/><circle cx="1210.8" cy="305.5" r="16.8" fill="#f00"/><circle cx="1247.8" cy="309.2" r="16.8" fill="#f00"/><circle cx="1284.8" cy="316.3" r="16.8" fill="#f00"/><circle cx="1321.8" cy="326.6" r="16.8" fill="#f00"/><circle cx="1358.9" cy="336.4" r="16.8" fill="#f00"/><circle cx="1395.9" cy="349.9" r="16.8" fill="#f00"/><circle cx="1432.9" cy="364" r="16.8" fill="#f00"/><circle cx="1470" cy="378.7" r="16.8" fill="#f00"/><circle cx="1507" cy="395" r="16.8" fill="#f00"/><circle cx="1544" cy="411.1" r="16.8" fill="#f00"/><circle cx="1581" cy="426.3" r="16.8" fill="#f00"/><circle cx="1618.1" cy="441.5" r="16.8" fill="#f00"/><circle cx="1655.1" cy="457" r="16.8" fill="#f00"/><circle cx="1692.1" cy="473.9" r="16.8" fill="#f00"/><circle cx="1729.2" cy="489.4" r="16.8" fill="#f00"/><circle cx="1766.2" cy="505.5" r="16.8" fill="#f00"/><circle cx="1803.2" cy="522.4" r="16.8" fill="#f00"/><circle cx="1840.3" cy="540.7" r="16.8" fill="#f00"/><circle cx="1877.3" cy="559.5" r="16.8" fill="#f00"/><circle cx="1914.3" cy="580.9" r="16.8" fill="#f00"/><circle cx="1951.3" cy="602.8" r="16.8" fill="#f00"/><circle cx="1988.4" cy="625.4" r="16.8" fill="#f00"/><circle cx="2025.4" cy="650.4" r="16.8" fill="#f00"/><circle cx="2062.4" cy="678" r="16.8" fill="#f00"/><circle cx="2099.5" cy="706.2" r="16.8" fill="#f00"/><circle cx="2136.5" cy="735" r="16.8" fill="#f00"/>
</g>
<g fill="none" stroke="#000" stroke-width="4">
<ellipse cx="1045" cy="183.7" rx="60.5" ry="94"/>
<ellipse cx="1459.5" cy="463.7" rx="61.5" ry="120.5"/>
</g>
<path d="M1004,114.4H815" stroke="#000" stroke-width="5" fill="none"/>
<path d="M780.4,114.4L819,102.7L819,126.1Z" fill="#000"/>
<path d="M1521,542H1700" stroke="#000" stroke-width="5" fill="none"/>
<path d="M1737.6,542L1698.7,530.8L1698.7,554.2Z" fill="#000"/>
<path d="M285,1294.2L304,1294.2M285,1170.4L317,1170.4M285,1046.5L304,1046.5M285,922.7L317,922.7M285,798.9L304,798.9M285,675.1L317,675.1M285,551.3L304,551.3M285,427.5L317,427.5M285,303.6L304,303.6M285,179.8L317,179.8M2136.5,1281.8L2118.5,1281.8M2136.5,1145.6L2105.5,1145.6M2136.5,1009.4L2118.5,1009.4M2136.5,873.2L2105.5,873.2M2136.5,737L2118.5,737M2136.5,600.8L2105.5,600.8M2136.5,464.6L2118.5,464.6M2136.5,328.4L2105.5,328.4M2136.5,192.2L2118.5,192.2M470.2,1418L470.2,1400M470.2,56L470.2,74M655.3,1418L655.3,1387M655.3,56L655.3,87M840.4,1418L840.4,1400M840.4,56L840.4,74M1025.6,1418L1025.6,1387M1025.6,56L1025.6,87M1210.8,1418L1210.8,1400M1210.8,56L1210.8,74M1395.9,1418L1395.9,1387M1395.9,56L1395.9,87M1581.1,1418L1581.1,1400M1581.1,56L1581.1,74M1766.2,1418L1766.2,1387M1766.2,56L1766.2,87M1951.3,1418L1951.3,1400M1951.3,56L1951.3,74" stroke="#000" stroke-width="8" fill="none" shape-rendering="crispEdges"/>
<rect x="285" y="56" width="1851.5" height="1362.0" fill="none" stroke="#000" stroke-width="8" shape-rendering="crispEdges"/>
<rect x="327.2" y="1093.2" width="661.5" height="290.3" fill="#fff" stroke="#000" stroke-width="2.6"/>
<path d="M368,1157H539.5" stroke="#000" stroke-width="9"/>
<path d="M368,1250.5H416M464,1250.5H515.6" stroke="#000" stroke-width="9"/>
<path d="M368,1341H416M464,1341H515.6" stroke="#f00" stroke-width="9"/>
<rect x="1434.5" y="1075.3" width="662.8" height="290" fill="#fff" stroke="#000" stroke-width="2.6"/>
<path d="M1475.5,1138.6H1646.6" stroke="#f00" stroke-width="9"/>
<circle cx="1561" cy="1138.6" r="16.8" fill="#f00"/>
<path d="M1475.5,1231.7H1525.6M1561,1231.7H1622.6" stroke="#000" stroke-width="9"/>
<rect x="1545" y="1216.2" width="32" height="31" fill="#000"/>
<path d="M1475.5,1322.9H1525.6M1561,1322.9H1622.6" stroke="#f00" stroke-width="9"/>
<rect x="1545" y="1307.4" width="32" height="31" fill="#f00"/>
<text x="553" y="1179" font-size="70" letter-spacing="1.5">Port 1_Simu.</text>
<text x="553" y="1272" font-size="70" letter-spacing="1.5">Port 1_Meas.</text>
<text x="553" y="1362" font-size="70" letter-spacing="1.5">Port 2_Meas.</text>
<text x="1660" y="1161.4" font-size="70" letter-spacing="1.5">Port 1_Simu.</text>
<text x="1660" y="1254.5" font-size="70" letter-spacing="1.5">Port 1_Meas.</text>
<text x="1660" y="1344.5" font-size="70" letter-spacing="1.5">Port 2_Meas.</text>
<text transform="translate(232,1439) scale(1.06,1)" font-size="84" text-anchor="middle">0</text>
<text transform="translate(232,1191.4) scale(1.06,1)" font-size="84" text-anchor="middle">1</text>
<text transform="translate(232,943.7) scale(1.06,1)" font-size="84" text-anchor="middle">2</text>
<text transform="translate(232,696.1) scale(1.06,1)" font-size="84" text-anchor="middle">3</text>
<text transform="translate(232,448.5) scale(1.06,1)" font-size="84" text-anchor="middle">4</text>
<text transform="translate(232,200.8) scale(1.06,1)" font-size="84" text-anchor="middle">5</text>
<text transform="translate(2166,1438.3) scale(1.05,1)" font-size="84">0</text>
<text transform="translate(2166,1165.9) scale(1.05,1)" font-size="84">20</text>
<text transform="translate(2166,893.5) scale(1.05,1)" font-size="84">40</text>
<text transform="translate(2166,621.1) scale(1.05,1)" font-size="84">60</text>
<text transform="translate(2166,348.7) scale(1.05,1)" font-size="84">80</text>
<text transform="translate(2166,76.3) scale(1.05,1)" font-size="84">100</text>
<text transform="translate(283.5,1511.5) scale(1.06,1)" font-size="84" text-anchor="middle">3.0</text>
<text transform="translate(653.8,1511.5) scale(1.06,1)" font-size="84" text-anchor="middle">3.2</text>
<text transform="translate(1024.1,1511.5) scale(1.06,1)" font-size="84" text-anchor="middle">3.4</text>
<text transform="translate(1394.4,1511.5) scale(1.06,1)" font-size="84" text-anchor="middle">3.6</text>
<text transform="translate(1764.7,1511.5) scale(1.06,1)" font-size="84" text-anchor="middle">3.8</text>
<text transform="translate(2135,1511.5) scale(1.06,1)" font-size="84" text-anchor="middle">4.0</text>
<text transform="translate(1210.5,1660.5) scale(1.024,1)" font-size="85" text-anchor="middle">Frequency (GHz)</text>
<text transform="translate(90.6,798) rotate(-90) scale(0.973,1)" font-size="96" text-anchor="middle">Gain (dBi)</text>
<text transform="translate(2396,784.2) rotate(-90)" font-size="85" text-anchor="middle">Radiating efficiency (%)</text>
</svg></body></html>
